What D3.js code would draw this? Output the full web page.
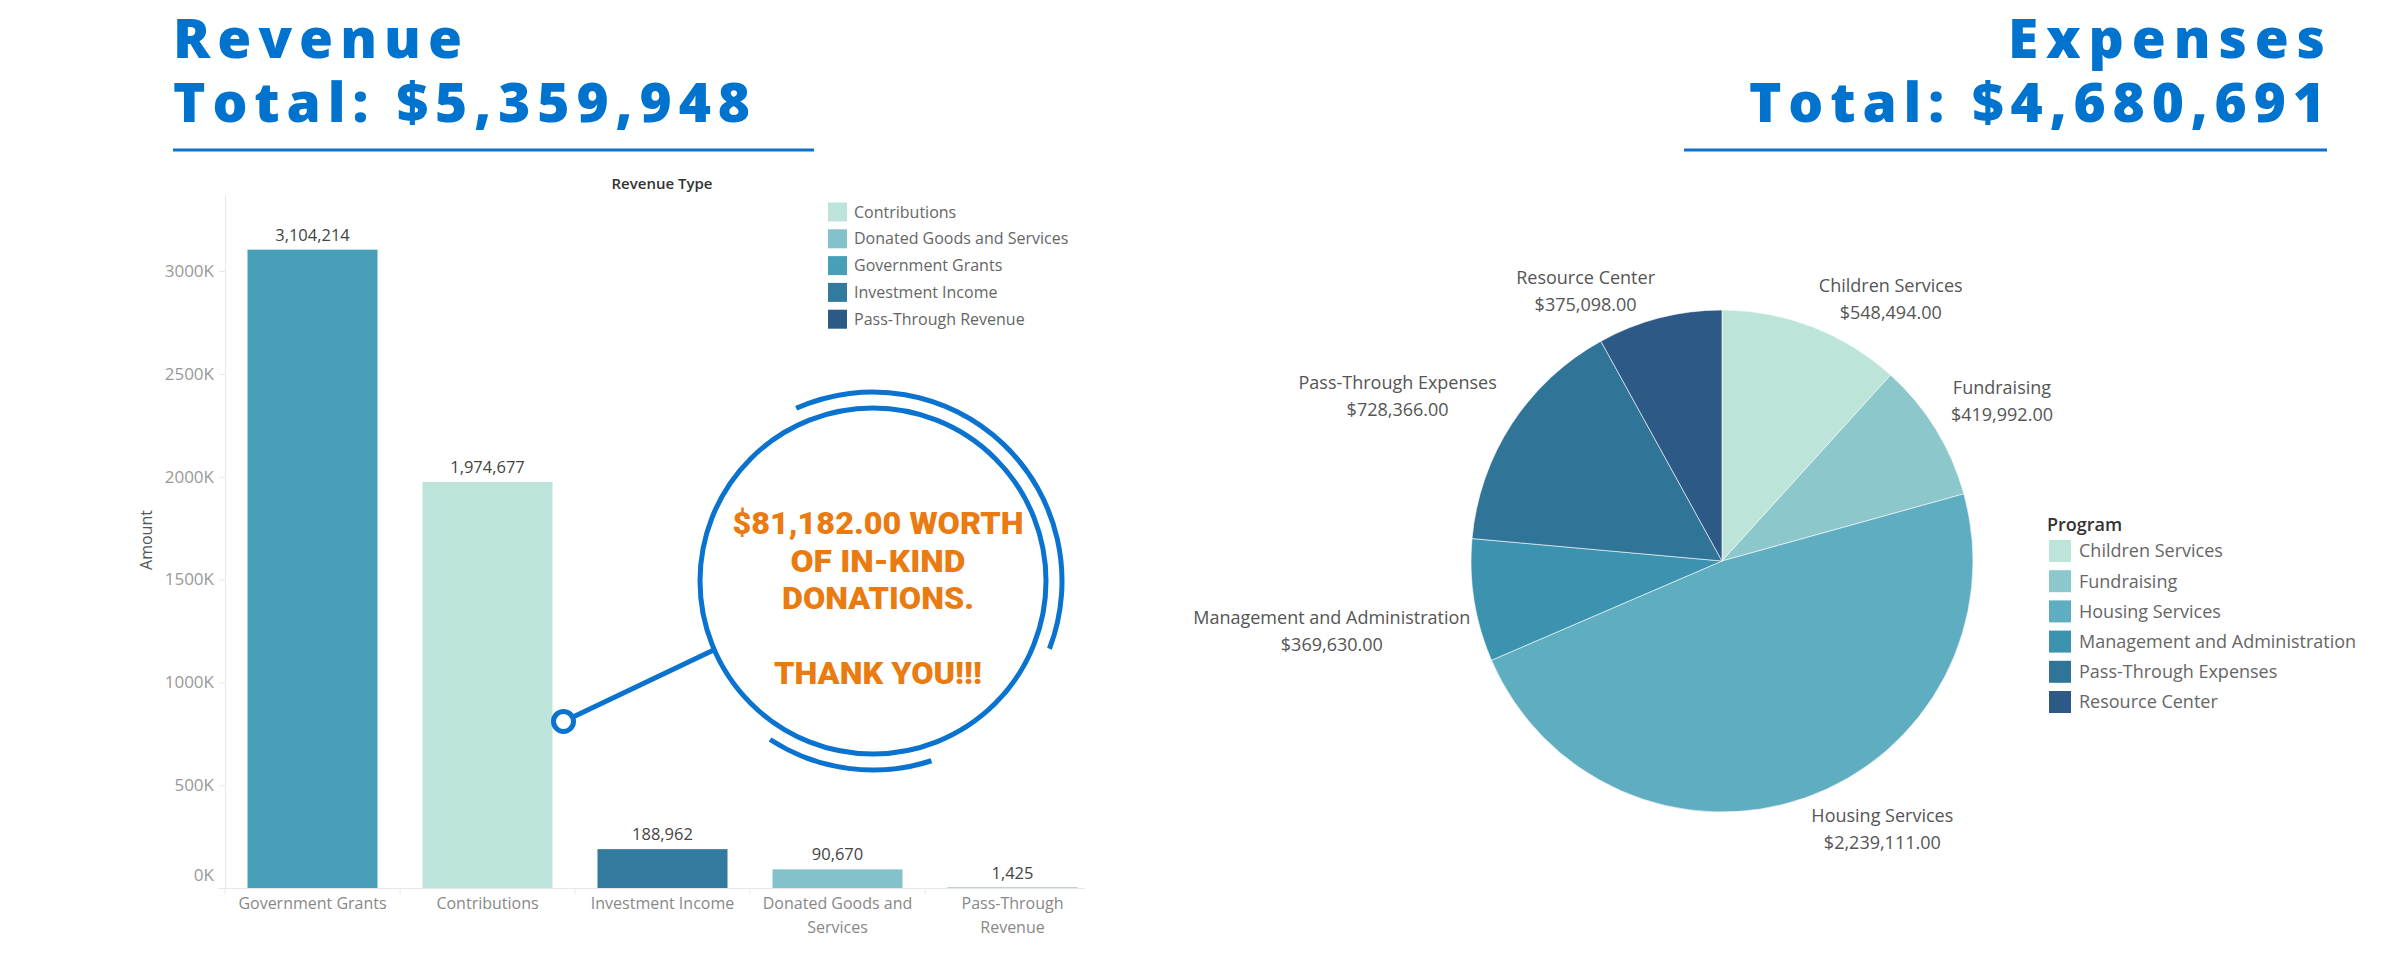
<!DOCTYPE html>
<html>
<head>
<meta charset="utf-8">
<script src="https://cdn.jsdelivr.net/npm/d3@7"></script>
<style>
  body { margin: 0; background: #fff; }
  svg text { font-family: "Open Sans", "Noto Sans", sans-serif; }
</style>
</head>
<body>
<svg id="chart" width="2400" height="960"></svg>
<script>
// revenue (bar chart)
var revenueTypes = ['Government Grants', 'Contributions', 'Investment Income', 'Donated Goods and Services', 'Pass-Through Revenue'];
var revenueAmounts = [3104214, 1974677, 188962, 90670, 1425];
var revenueLegend = ['Contributions', 'Donated Goods and Services', 'Government Grants', 'Investment Income', 'Pass-Through Revenue'];
var revenueColors = ['#bde4da', '#83c2ca', '#47a0b8', '#337b9e', '#2c5985'];
var revenueTicks = [0, 500000, 1000000, 1500000, 2000000, 2500000, 3000000];

// expenses (pie chart)
var programs = ['Children Services', 'Fundraising', 'Housing Services', 'Management and Administration', 'Pass-Through Expenses', 'Resource Center'];
var expenseAmounts = [548494, 419992, 2239111, 369630, 728366, 375098];
var programColors = ['#bce4d9', '#8bc7cb', '#5fadc1', '#3b93b0', '#307497', '#2c5985'];

var inKindDonations = 81182;

var blue = '#0a73cf', orange = '#e97b10';
var svg = d3.select('#chart');
var fmtInt = d3.format(',');
var fmtMoney = d3.format('$,.2f');

// ---------- titles ----------
function title(x, anchor, lines, lengths) {
    var t = svg.append('text')
        .attr('text-anchor', anchor)
        .style('font-size', '55px').style('font-weight', 800)
        .style('fill', '#0073cf');
    lines.forEach(function(s, i){
        t.append('tspan')
            .attr('x', x).attr('y', [58, 122][i])
            .attr('textLength', lengths[i]).attr('lengthAdjust', 'spacing')
            .text(s);
    });
}
var revTotal = d3.sum(revenueAmounts), expTotal = d3.sum(expenseAmounts);
title(173, 'start', ['Revenue', 'Total: $' + fmtInt(revTotal)], [289, 577]);
title(2325, 'end', ['Expenses', 'Total: $' + fmtInt(expTotal)], [317, 576]);
svg.append('line').attr('x1', 173).attr('x2', 814).attr('y1', 150).attr('y2', 150)
    .style('stroke', blue).style('stroke-width', 3);
svg.append('line').attr('x1', 1684).attr('x2', 2327).attr('y1', 150).attr('y2', 150)
    .style('stroke', blue).style('stroke-width', 3);

// ---------- bar chart ----------
var x = d3.scaleBand().domain(revenueTypes).range([225, 1100]).paddingInner(0.257).paddingOuter(0.1285);
var y = d3.scaleLinear().domain([0, 3370000]).range([888, 195]);
var revColor = d3.scaleOrdinal().domain(revenueLegend).range(revenueColors);

var yAxis = svg.append('g').attr('transform', 'translate(225,0)')
    .call(d3.axisLeft(y).tickValues(revenueTicks).tickSize(6).tickSizeOuter(0).tickPadding(5)
        .tickFormat(function(d){ return (d / 1000) + 'K'; }));
yAxis.select('.domain').style('stroke', '#e8e8e8');
yAxis.selectAll('.tick line').style('stroke', '#e8e8e8');
yAxis.selectAll('.tick text').style('font-size', '17px').style('fill', '#999')
    .attr('dy', function(d){ return d === 0 ? '-0.45em' : '0.32em'; });

svg.append('text').attr('transform', 'translate(146,540) rotate(-90)')
    .attr('text-anchor', 'middle').attr('dy', '0.35em')
    .style('font-size', '16px').style('fill', '#555').text('Amount');

var xAxis = svg.append('g').attr('transform', 'translate(0,888)')
    .call(d3.axisBottom(x).tickSize(0).tickSizeOuter(0).tickPadding(10));
xAxis.select('.domain').remove();
svg.append('line').attr('x1', 218).attr('x2', 1085).attr('y1', 888.5).attr('y2', 888.5)
    .style('stroke', '#e8e8e8');
svg.selectAll('.sep').data(revenueTypes).enter().append('line')
    .attr('x1', function(d){ return x(d) - x.step() * x.paddingInner() / 2; })
    .attr('x2', function(d){ return x(d) - x.step() * x.paddingInner() / 2; })
    .attr('y1', 888).attr('y2', 894).style('stroke', '#e8e8e8');
xAxis.selectAll('.tick text').style('font-size', '16px').style('fill', '#888')
    .call(wrap, x.step() - 18);

function wrap(texts, width) {
    texts.each(function(){
        var text = d3.select(this), words = text.text().split(/\s+/), line = [],
            yy = text.attr('y'), dy = parseFloat(text.attr('dy')),
            tspan = text.text(null).append('tspan').attr('x', 0).attr('y', yy).attr('dy', dy + 'em'), n = 0;
        words.forEach(function(w){
            line.push(w);
            tspan.text(line.join(' '));
            if (tspan.node().getComputedTextLength() > width && line.length > 1) {
                line.pop(); tspan.text(line.join(' '));
                line = [w];
                tspan = text.append('tspan').attr('x', 0).attr('y', yy)
                    .attr('dy', (++n * 1.5 + dy) + 'em').text(w);
            }
        });
    });
}

svg.selectAll('.bar').data(revenueTypes).enter().append('rect')
    .attr('x', function(d){ return x(d); })
    .attr('width', x.bandwidth())
    .attr('y', function(d, i){ return y(revenueAmounts[i]); })
    .attr('height', function(d, i){ return y(0) - y(revenueAmounts[i]); })
    .style('fill', function(d){ return revColor(d); });

svg.selectAll('.val').data(revenueTypes).enter().append('text')
    .attr('x', function(d){ return x(d) + x.bandwidth() / 2; })
    .attr('y', function(d, i){ return y(revenueAmounts[i]) - 9; })
    .attr('text-anchor', 'middle')
    .style('font-size', '16.5px').style('fill', '#444')
    .text(function(d, i){ return fmtInt(revenueAmounts[i]); });

svg.append('text').attr('x', 662).attr('y', 189).attr('text-anchor', 'middle')
    .style('font-size', '15px').style('font-weight', 600).style('fill', '#333').text('Revenue Type');

var revLeg = svg.selectAll('.rleg').data(revenueLegend).enter().append('g')
    .attr('transform', function(d, i){ return 'translate(828,' + (212 + i * 26.8) + ')'; });
revLeg.append('rect').attr('y', -9.5).attr('width', 19).attr('height', 19)
    .style('fill', function(d){ return revColor(d); });
revLeg.append('text').attr('x', 26).attr('dy', '0.35em')
    .style('font-size', '16px').style('fill', '#666').text(function(d){ return d; });

// ---------- in-kind callout ----------
var cx = 873, cy = 581, cr = 173;
var callout = svg.append('g');
var dotX = x('Contributions') + x.bandwidth() + 11, dotY = y(810000);
var joinA = 246.6 * Math.PI / 180;
callout.append('line').attr('x1', dotX).attr('y1', dotY)
    .attr('x2', cx + cr * Math.sin(joinA)).attr('y2', cy - cr * Math.cos(joinA))
    .style('stroke', blue).style('stroke-width', 5);
callout.append('circle').attr('cx', dotX).attr('cy', dotY).attr('r', 10)
    .style('fill', '#fff').style('stroke', blue).style('stroke-width', 5);
callout.append('circle').attr('cx', cx).attr('cy', cy).attr('r', cr)
    .style('fill', '#fff').style('stroke', blue).style('stroke-width', 5);
var ring = d3.arc().innerRadius(186.5).outerRadius(191.5);
[[-24, 111], [162, 213]].forEach(function(a){
    callout.append('path').attr('transform', 'translate(' + cx + ',' + cy + ')')
        .attr('d', ring({startAngle: a[0] * Math.PI / 180, endAngle: a[1] * Math.PI / 180}))
        .style('fill', blue);
});
var calloutLines = [fmtMoney(inKindDonations) + ' WORTH', 'OF IN-KIND', 'DONATIONS.', 'THANK YOU!!!'];
var calloutY = [534, 572, 609, 684], calloutW = [291, 175, 192, 208];
calloutLines.forEach(function(t, i){
    callout.append('text').attr('x', 878).attr('y', calloutY[i])
        .attr('text-anchor', 'middle')
        .attr('textLength', calloutW[i]).attr('lengthAdjust', 'spacingAndGlyphs')
        .style('font-family', 'Roboto, sans-serif')
        .style('font-size', '31px').style('font-weight', 900).style('fill', orange)
        .text(t);
});

// ---------- pie chart ----------
var pcx = 1722, pcy = 561, pr = 251;
var pie = d3.pie().sort(null).value(function(d){ return d; });
var arcs = pie(expenseAmounts);
var arc = d3.arc().innerRadius(0).outerRadius(pr);
var labelArc = d3.arc().innerRadius(269).outerRadius(269);
var progColor = d3.scaleOrdinal().domain(programs).range(programColors);
var pieG = svg.append('g').attr('transform', 'translate(' + pcx + ',' + pcy + ')');

pieG.selectAll('path').data(arcs).enter().append('path')
    .attr('d', arc)
    .style('fill', function(d){ return progColor(programs[d.index]); })
    .style('stroke', '#fff').style('stroke-width', 0.6);

// vertical nudges of the label blocks (name line), per slice
var labelDy = [-24, -32, 1, 14, -31, -23];
arcs.forEach(function(d){
    var p = labelArc.centroid(d);
    var right = (d.startAngle + d.endAngle) / 2 < Math.PI;
    var g = pieG.append('g');
    var t1 = g.append('text').attr('text-anchor', 'middle').attr('dy', '0.35em')
        .attr('y', p[1] + labelDy[d.index])
        .style('font-size', '18px').style('fill', '#555').text(programs[d.index]);
    var t2 = g.append('text').attr('text-anchor', 'middle').attr('dy', '0.35em')
        .attr('y', p[1] + labelDy[d.index] + 27)
        .style('font-size', '18px').style('fill', '#555').text(fmtMoney(d.data));
    var w = Math.max(t1.node().getComputedTextLength(), t2.node().getComputedTextLength());
    var mx = right ? p[0] + w / 2 : p[0] - w / 2;
    if (d.index === 3) mx = p[0] + 14 - w / 2;
    t1.attr('x', mx); t2.attr('x', mx);
});

svg.append('text').attr('x', 2047).attr('y', 525).attr('dy', '0.35em')
    .style('font-size', '18px').style('font-weight', 600).style('fill', '#333').text('Program');
var progLeg = svg.selectAll('.pleg').data(programs).enter().append('g')
    .attr('transform', function(d, i){ return 'translate(2049,' + (551 + i * 30.2) + ')'; });
progLeg.append('rect').attr('y', -11).attr('width', 22).attr('height', 22)
    .style('fill', function(d){ return progColor(d); });
progLeg.append('text').attr('x', 30).attr('dy', '0.35em')
    .style('font-size', '18px').style('fill', '#666').text(function(d){ return d; });
</script>
</body>
</html>
